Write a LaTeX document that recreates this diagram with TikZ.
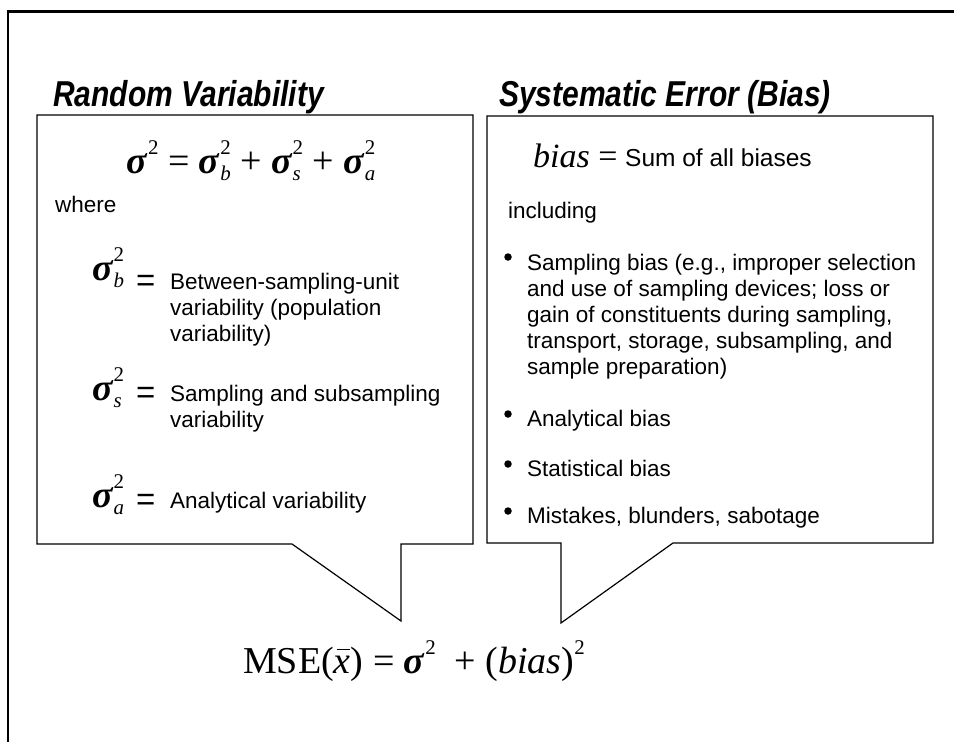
\documentclass[tikz,border=0pt]{standalone}
\usepackage{fontspec}
\usepackage{graphicx}
\setmainfont{Liberation Sans}
\newfontfamily\tms{Liberation Serif}
\usetikzlibrary{positioning}
\tikzset{
titolo/.style={anchor=base west,inner sep=0pt,font=\fontsize{30}{36}\selectfont\bfseries\itshape},
testo/.style={inner sep=0pt,font=\fontsize{22.5}{26}\selectfont},
blocco/.style={testo,anchor=north west,align=left},
uguale/.style={inner sep=0pt,anchor=base west,font=\fontsize{33}{36}\selectfont},
formula/.style={inner sep=0pt,font=\fontsize{38}{44}\selectfont\tms},
fumetto/.style={draw,line width=1.2pt,line join=miter},
punto/.style={circle,fill,inner sep=0pt,minimum size=7.5pt}}
\newcommand{\quadr}{\raisebox{0.5em}{\scalebox{0.55}{2}}}
\newcommand{\sig}{\textbf{\textit{σ}}}
\newcommand{\sq}[1]{\sig\rlap{\raisebox{-0.2em}{\scalebox{0.55}{\textit{#1}}}}\quadr}
\newcommand{\xbar}{\textit{x}\llap{\raisebox{0.6em}{\rule{0.36em}{0.04em}}\hspace{0.01em}}}
\newcommand{\alto}[1]{\scalebox{1}[1.2]{#1}}

\begin{document}
\begin{tikzpicture}[x=1pt,y=-1pt]

\useasboundingbox (0,0) rectangle (954,742);
\draw[line width=2.5pt] (8,742) -- (8,11.5) -- (954,11.5);

\node[titolo] (rv) at (53,106) {\alto{Random Variability}};
\node[titolo] (se) at (499,106) {\alto{Systematic Error (Bias)}};

\draw[fumetto] (37,115) -- (473,115) -- (473,544) -- (401,544) -- (401,621) -- (292,544) -- (37,544) -- cycle;
\draw[fumetto] (487,116) -- (933,116) -- (933,543) -- (673,543) -- (561,623) -- (561,543) -- (487,543) -- cycle;

\node[formula,anchor=base] (varianza) at (251,173) {\sig\quadr\ = \sq{b} + \sq{s} + \sq{a}};
\node[testo,anchor=base west] (where) at (55,212) {where};

\node[formula,anchor=base west] (sb) at (92,280) {\sq{b}};
\node[uguale] (eqb) at (136,291) {=};
\node[blocco] (tb) at (170,273) {Between-sampling-unit\\variability (population\\variability)};

\node[formula,anchor=base west] (ss) at (92,400) {\sq{s}};
\node[uguale] (eqs) at (136,403) {=};
\node[blocco] (ts) at (170,385) {Sampling and subsampling\\variability};

\node[formula,anchor=base west] (sa) at (92,507) {\sq{a}};
\node[uguale] (eqa) at (136,510) {=};
\node[blocco] (ta) at (170,492) {Analytical variability};

\node[formula,anchor=base west,font=\fontsize{34}{38}\selectfont\tms] (bias) at (533,167) {\textit{bias} =};
\node[testo,anchor=base west,font=\fontsize{24.5}{28}\selectfont] (somma) at (625,166) {Sum of all biases};
\node[testo,anchor=base west] (incl) at (508,218) {including};

\node[blocco] (b1) at (527,254) {Sampling bias (e.g., improper selection\\and use of sampling devices; loss or\\gain of constituents during sampling,\\transport, storage, subsampling, and\\sample preparation)};
\node[blocco] (b2) at (527,410) {Analytical bias};
\node[blocco] (b3) at (527,460) {Statistical bias};
\node[blocco] (b4) at (527,507) {Mistakes, blunders, sabotage};
\node[punto] (p1) at (508,257) {};
\node[punto] (p2) at (508,414) {};
\node[punto] (p3) at (508,464) {};
\node[punto] (p4) at (508,511) {};

\node[formula,anchor=base west,font=\fontsize{38}{42}\selectfont\tms] (mse) at (243,673) {MSE(\xbar) = \sig\quadr\ \ + (\textit{bias})\quadr};

\end{tikzpicture}
\end{document}
